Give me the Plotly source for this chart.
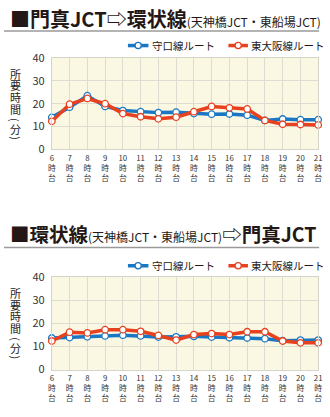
import plotly.graph_objects as go

# Hour slots (6時台 … 21時台)
hours = list(range(6, 22))
hour_labels = [f"{h}<br>時<br>台" for h in hours]

# 門真JCT ⇨ 環状線 : travel time in minutes
out_moriguchi = [14, 18.5, 23.5, 18.8, 17, 16.5, 16.1, 16.3, 15.7, 15.4, 15.5, 15, 12.7, 13.3, 13, 13]
out_higashiosaka = [12.3, 19.8, 22.3, 20, 15.7, 14.3, 13.4, 14.1, 16.5, 18.8, 18.2, 17.7, 12.7, 11, 10.9, 10.7]

# 環状線 ⇨ 門真JCT : travel time in minutes
in_moriguchi = [13.7, 13.9, 14.2, 14.6, 14.9, 14.6, 14.1, 14.2, 14.4, 14.1, 13.8, 13.7, 13.4, 12.5, 12.8, 12.8]
in_higashiosaka = [12.4, 16.2, 15.9, 17.3, 17.3, 16.6, 14.8, 12.8, 15.2, 15.6, 15.2, 16.4, 16.4, 12.4, 11.6, 11.6]

series_names = ["守口線ルート", "東大阪線ルート"]
y_ticks = [0, 10, 20, 30, 40]
# axis title, written top to bottom; parentheses are turned sideways
y_title_chars = [("所", 0), ("要", 0), ("時", 0), ("間", 0), ("(", 90), ("分", 0), (")", 90)]

W, H = 330, 417
FONT = "Noto Sans CJK JP"
BLUE = "#1a77c4"
RED = "#e8411f"
BG = "#faf7e2"
GRID = "#dedbd0"
COLORS = (BLUE, RED)


def py(px):
    """Pixel row from top -> paper y."""
    return 1 - px / H


def pxx(px):
    return px / W


fig = go.Figure()

panels = [
    dict(x="x", y="y", data=(out_moriguchi, out_higashiosaka),
         top=51, bottom=146, left=49, right=322, leg_y=38),
    dict(x="x2", y="y2", data=(in_moriguchi, in_higashiosaka),
         top=279, bottom=375, left=49, right=322, leg_y=267),
]

for p in panels:
    for name, vals, col in zip(series_names, p["data"], COLORS):
        fig.add_trace(go.Scatter(
            x=hours, y=vals, name=name, mode="lines+markers",
            xaxis=p["x"], yaxis=p["y"], showlegend=False,
            line=dict(color=col, width=3.5),
            marker=dict(size=6.5, color="white", line=dict(color=col, width=1.3)),
            cliponaxis=False,
        ))

axis_common = dict(showgrid=True, gridcolor=GRID, gridwidth=1, zeroline=False,
                   showline=True, linecolor="#d6d3c8", linewidth=1, mirror=True,
                   ticks="", fixedrange=True)

for i, p in enumerate(panels):
    sfx = "" if i == 0 else "2"
    fig.layout["xaxis" + sfx] = dict(
        axis_common, domain=[pxx(p["left"]), pxx(p["right"])], anchor="y" + sfx,
        range=[6, 21], tickmode="array", tickvals=hours, ticktext=hour_labels,
        tickfont=dict(family=FONT, size=7.8, color="#333"), ticklabelstandoff=1,
    )
    fig.layout["yaxis" + sfx] = dict(
        axis_common, domain=[py(p["bottom"]), py(p["top"])], anchor="x" + sfx,
        range=[0, 40], tickmode="array", tickvals=y_ticks,
        tickfont=dict(family=FONT, size=11, color="#333"), ticklabelstandoff=4,
    )

annotations = []
shapes = []

# vertical axis titles, one character per row
offsets = [16.5, 28.5, 40.5, 52.5, 64, 73.5, 83]
for p in panels:
    for (ch, ang), off in zip(y_title_chars, offsets):
        annotations.append(dict(
            text=ch, xref="paper", yref="paper", x=pxx(12), y=py(p["top"] + off),
            xanchor="center", yanchor="middle", showarrow=False, textangle=ang,
            font=dict(family=FONT, size=11, color="#222"),
        ))

# legends: short line with an open circle, then the route name
legend_x = [(127, 148), (230, 250)]
for p in panels:
    yy = py(p["leg_y"])
    for name, col, (a, b) in zip(series_names, COLORS, legend_x):
        shapes.append(dict(type="line", xref="paper", yref="paper",
                           x0=pxx(a), x1=pxx(b), y0=yy, y1=yy,
                           line=dict(color=col, width=3.5)))
        c = (a + b) / 2
        shapes.append(dict(type="circle", xref="paper", yref="paper",
                           x0=pxx(c - 3.2), x1=pxx(c + 3.2),
                           y0=py(p["leg_y"] + 3.2), y1=py(p["leg_y"] - 3.2),
                           fillcolor="white", line=dict(color=col, width=1.3)))
        annotations.append(dict(
            text=name, xref="paper", yref="paper", x=pxx(b + 1.5), y=yy,
            xanchor="left", yanchor="middle", showarrow=False,
            font=dict(family=FONT, size=10.5, color="#231815"),
        ))

# section headings
small = "<span style='font-size:12px'>(天神橋JCT・東船場JCT)</span>"
annotations.append(dict(
    text="<b>■門真JCT⇨環状線</b>" + small,
    xref="paper", yref="paper", x=pxx(4), y=py(10), xanchor="left", yanchor="middle",
    showarrow=False, font=dict(family=FONT, size=20, color="#231815"),
))
annotations.append(dict(
    text="<b>■環状線</b>" + small + "<b>⇨門真JCT</b>",
    xref="paper", yref="paper", x=pxx(4), y=py(233.5), xanchor="left", yanchor="middle",
    showarrow=False, font=dict(family=FONT, size=19.5, color="#231815"),
))

for yline in (23, 248):
    shapes.append(dict(type="line", xref="paper", yref="paper", x0=0, x1=pxx(323),
                       y0=py(yline), y1=py(yline), line=dict(color="#9a9a9a", width=1.5)))

# second subplot background
shapes.append(dict(type="rect", xref="x2 domain", yref="y2 domain", x0=0, x1=1, y0=0, y1=1,
                   fillcolor=BG, line_width=0, layer="below"))

fig.update_layout(
    width=W, height=H, margin=dict(l=0, r=0, t=0, b=0),
    paper_bgcolor="white", plot_bgcolor=BG,
    annotations=annotations, shapes=shapes,
    font=dict(family=FONT), showlegend=False,
)

fig.write_html("out.html", config={"displayModeBar": False})
